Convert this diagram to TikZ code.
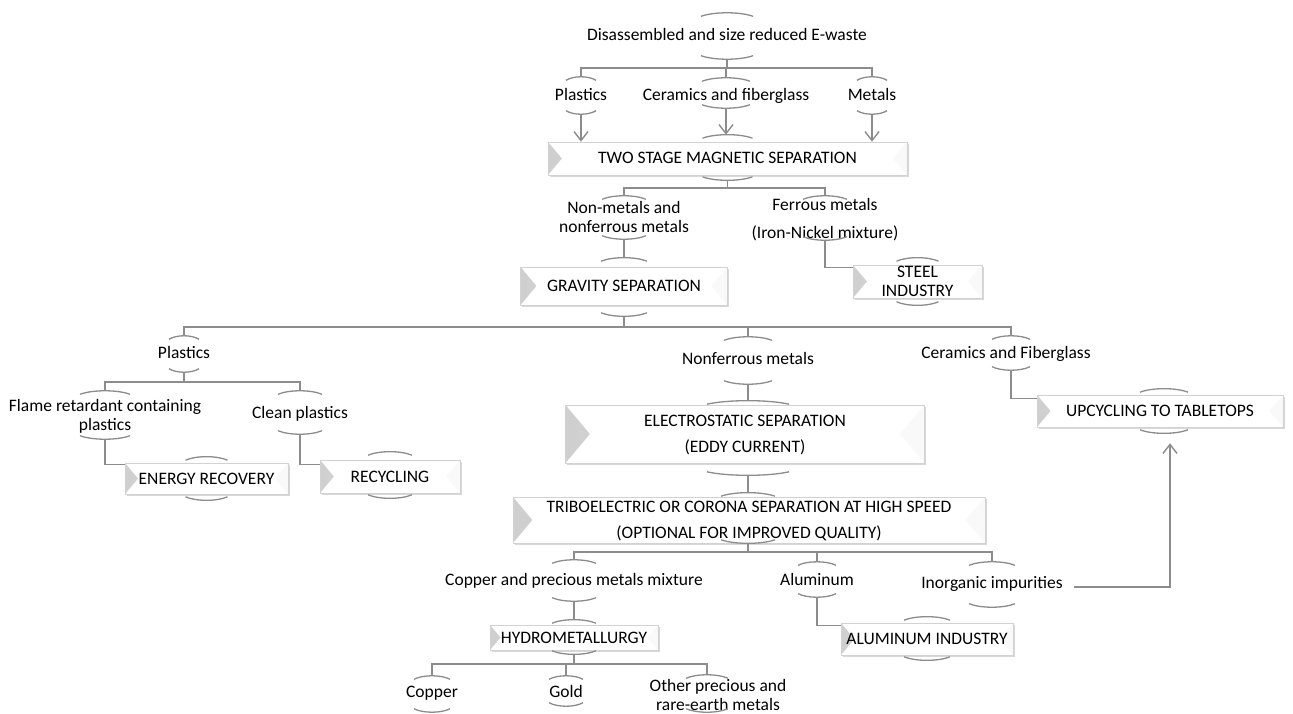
\documentclass[tikz,border=0pt]{standalone}
\usepackage{fontspec}
\setmainfont{Carlito}
\usetikzlibrary{arrows.meta,calc,shadows}
\definecolor{ln}{RGB}{140,140,140}
\newcommand\labfont{\fontsize{17.5}{19}\selectfont}
% caps: node, half width, top offset, bottom offset, x shift (all in pt)
\newcommand\caps[5]{%
  \coordinate (#1-t) at ([xshift=#5pt,yshift=#3pt]#1.north);
  \coordinate (#1-b) at ([xshift=#5pt,yshift=-#4pt]#1.south);
  \draw[capline] ([xshift=-#2pt,yshift=-3.5pt]#1-t) .. controls ([xshift=-0.5*#2pt,yshift=1.2pt]#1-t) and ([xshift=0.5*#2pt,yshift=1.2pt]#1-t) .. ([xshift=#2pt,yshift=-3.5pt]#1-t);
  \draw[capline] ([xshift=-#2pt,yshift=3.5pt]#1-b) .. controls ([xshift=-0.5*#2pt,yshift=-1.2pt]#1-b) and ([xshift=0.5*#2pt,yshift=-1.2pt]#1-b) .. ([xshift=#2pt,yshift=3.5pt]#1-b);
}
\begin{document}
\begin{tikzpicture}[x=1pt,y=-1pt,
  conn/.style={draw=ln, line width=1.4pt},
  capline/.style={draw=ln, line width=1.3pt},
  arr/.style={conn, -{Straight Barb[length=9pt,width=14pt]}},
  lbl/.style={font=\labfont, text height=11pt, text depth=0pt, inner sep=0pt, align=center},
  two/.style={text height=30pt},
  bevel/.style={path picture={
    \shade[left color=gray!38, right color=gray!14] let \p1=(path picture bounding box.north west), \p2=(path picture bounding box.south west) in
      (\p1) -- ({\x1+0.42*(\y1-\y2)},{0.5*(\y1+\y2)}) -- (\p2) -- cycle;
    \fill[gray!5] let \p1=(path picture bounding box.north east), \p2=(path picture bounding box.south east) in
      (\p1) -- ({\x1-0.42*(\y1-\y2)},{0.5*(\y1+\y2)}) -- (\p2) -- cycle;
  }},
  bx/.style={lbl, draw=gray!35, line width=0.6pt, fill=white, bevel,
    drop shadow={shadow xshift=1.5pt, shadow yshift=-2pt, opacity=0.3}},
]
\useasboundingbox (0,0) rectangle (1293,714);
\fill[white] (0,0) rectangle (1293,714);

% bus levels
\coordinate (b1) at (0,68);
\coordinate (b2) at (0,188);
\coordinate (b3) at (0,327);
\coordinate (b4) at (0,382);
\coordinate (b5) at (0,552);
\coordinate (b6) at (0,664);

% nodes
\node[lbl] (ew) at (727,35) {Disassembled and size reduced E-waste};
\node[lbl] (pl1) at (581,95) {Plastics};
\node[lbl] (cf1) at (726,95) {Ceramics and fiberglass};
\node[lbl] (mt1) at (872,95) {Metals};
\node[bx, minimum width=359pt, minimum height=33pt] (tsm) at (727.5,158.5) {TWO STAGE MAGNETIC SEPARATION};
\node[lbl, two] (nm) at (624,217.5) {Non-metals and\\nonferrous metals};
\node[lbl, text height=39pt] (fe) at (825,219) {Ferrous metals\\[9pt](Iron-Nickel mixture)};
\node[bx, minimum width=207pt, minimum height=38pt] (grav) at (624,286) {GRAVITY SEPARATION};
\node[bx, two, minimum width=129pt, minimum height=33pt] (steel) at (917.5,281.5) {STEEL\\INDUSTRY};
\node[lbl] (pl2) at (184,353) {Plastics};
\node[lbl, two] (fr) at (105,415.5) {Flame retardant containing\\plastics};
\node[lbl] (cp) at (300,413) {Clean plastics};
\node[bx, minimum width=163pt, minimum height=31pt] (er) at (206.5,478.5) {ENERGY RECOVERY};
\node[bx, minimum width=140pt, minimum height=33pt] (rec) at (390,476.5) {RECYCLING};
\node[lbl] (nf) at (748,359) {Nonferrous metals};
\node[lbl] (cfg) at (1006,353) {Ceramics and Fiberglass};
\node[bx, minimum width=246pt, minimum height=32pt] (up) at (1160,411) {UPCYCLING TO TABLETOPS};
\node[bx, text height=37pt, minimum width=359pt, minimum height=58pt] (es) at (745,434) {ELECTROSTATIC SEPARATION\\[7pt](EDDY CURRENT)};
\node[bx, text height=37pt, minimum width=472pt, minimum height=46pt] (tri) at (749,520) {TRIBOELECTRIC OR CORONA SEPARATION AT HIGH SPEED\\[7pt](OPTIONAL FOR IMPROVED QUALITY)};
\node[lbl] (cpm) at (574,580) {Copper and precious metals mixture};
\node[lbl] (al) at (817,580) {Aluminum};
\node[lbl] (ii) at (992,583) {Inorganic impurities};
\node[bx, minimum width=168pt, minimum height=25pt] (hyd) at (574,637.5) {HYDROMETALLURGY};
\node[bx, minimum width=172pt, minimum height=32pt] (alind) at (927,639) {ALUMINUM INDUSTRY};
\node[lbl] (cu) at (432,692) {Copper};
\node[lbl] (au) at (566,692) {Gold};
\node[lbl, two] (op) at (718,695.5) {Other precious and\\rare-earth metals};

% caps (arcs) and their anchor coordinates
\caps{ew}{26}{16.5}{18.5}{0}
\caps{pl1}{15}{12.5}{13.5}{0}
\caps{cf1}{24}{11.5}{7.5}{0}
\caps{mt1}{15}{12.5}{13.5}{0}
\caps{tsm}{25}{7}{5}{0}
\caps{nm}{22}{6.5}{6.5}{0}
\caps{fe}{22}{3.5}{1.5}{0}
\caps{grav}{23}{9}{11}{0}
\caps{steel}{21}{7}{7}{0}
\caps{pl2}{15}{11.5}{13.5}{0}
\caps{fr}{25}{9.5}{8.5}{0}
\caps{cp}{22}{16.5}{15.5}{0}
\caps{er}{21}{6}{6}{0}
\caps{rec}{22}{8}{5}{0}
\caps{nf}{24}{16.5}{19.5}{0}
\caps{cfg}{19}{11.5}{11.5}{5}
\caps{up}{24}{6}{6}{4}
\caps{es}{41}{4}{12}{3}
\caps{tri}{27}{4}{0}{-1}
\caps{cpm}{22}{14.5}{15.5}{0}
\caps{al}{19}{12.5}{11.5}{0}
\caps{ii}{23}{15.5}{18.5}{0}
\caps{hyd}{22}{5}{4}{0}
\caps{alind}{23}{6}{5}{0}
\caps{cu}{18}{10.5}{14.5}{0}
\caps{au}{17}{10.5}{8.5}{0}
\caps{op}{21}{5.5}{1.5}{-11}

% connectors
\draw[conn] (ew-b) -- (ew-b |- b1) -| (pl1-t);
\draw[conn] (ew-b |- b1) -| (mt1-t);
\draw[conn] (ew-b |- b1) -| (cf1-t);
\draw[arr] (pl1-b) -- (pl1-b |- tsm.north);
\draw[arr] (cf1-b) -- (cf1-b |- tsm-t);
\draw[arr] (mt1-b) -- (mt1-b |- tsm.north);

\draw[conn] (tsm-b) -- (tsm-b |- b2) -| (nm-t);
\draw[conn] (tsm-b |- b2) -| (fe-t);
\draw[conn] (nm-b) -- (grav-t);
\draw[conn] (fe-b) |- ([yshift=-3pt]steel.north west);

\draw[conn] (grav-b) -- (grav-b |- b3) -| (pl2-t);
\draw[conn] (grav-b |- b3) -| (nf-t);
\draw[conn] (grav-b |- b3) -| (cfg-t);

\draw[conn] (pl2-b) -- (pl2-b |- b4) -| (fr-t);
\draw[conn] (pl2-b |- b4) -| (cp-t);
\draw[conn] (fr-b) |- ([yshift=-2pt]er.north west);
\draw[conn] (cp-b) |- ([yshift=-5pt]rec.north west);
\draw[conn] (cfg-b) |- ([yshift=-4pt]up.north west);

\draw[conn] (nf-b) -- (es-t);
\draw[conn] (es-b) -- (tri-t);

\draw[conn] (tri-b) -- (tri-b |- b5) -| (cpm-t);
\draw[conn] (tri-b |- b5) -| (al-t);
\draw[conn] (tri-b |- b5) -| (ii-t);
\draw[conn] (cpm-b) -- (hyd-t);
\draw[conn] (al-b) |- ([yshift=-3pt]alind.north west);
\draw[arr] ([xshift=11pt,yshift=-4pt]ii.east) -| ([xshift=10pt,yshift=-16pt]up.south);

\draw[conn] (hyd-b) -- (hyd-b |- b6) -| (cu-t);
\draw[conn] (hyd-b |- b6) -| (au-t);
\draw[conn] (hyd-b |- b6) -| (op-t);
\end{tikzpicture}
\end{document}
